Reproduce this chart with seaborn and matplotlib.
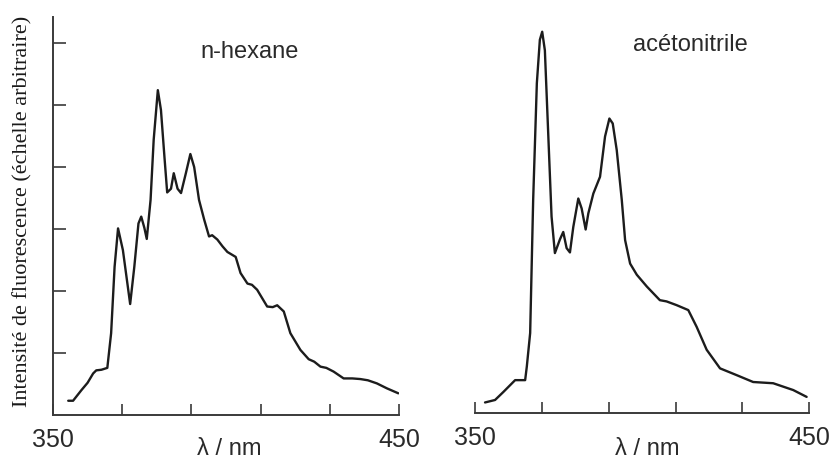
import numpy as np
import pandas as pd
import matplotlib
matplotlib.use("Agg")
import matplotlib.pyplot as plt
import seaborn as sns

# Emission spectra (wavelength in nm, intensity in arbitrary units)
hexane_nm = [354.4, 355.8, 358.2, 360.0, 361.6, 362.5, 364.0, 365.7, 366.8, 367.8,
             368.8, 370.2, 372.3, 373.5, 374.7, 375.5, 376.4, 377.1, 378.2, 379.1,
             380.3, 381.2, 382.2, 383.0, 384.1, 384.9, 386.0, 387.0, 388.4, 389.7,
             390.8, 392.2, 393.7, 395.1, 396.0, 397.5, 399.0, 400.4, 402.8, 404.2,
             406.2, 407.5, 409.0, 411.9, 413.5, 414.8, 416.7, 418.6, 421.5, 423.9,
             425.5, 427.3, 429.0, 431.1, 434.0, 436.5, 438.8, 441.0, 443.6, 446.5,
             449.8]
hexane_int = [0.23, 0.23, 0.40, 0.52, 0.67, 0.72, 0.73, 0.76, 1.32, 2.39,
              3.01, 2.66, 1.79, 2.39, 3.09, 3.20, 3.02, 2.84, 3.47, 4.44,
              5.24, 4.92, 4.17, 3.59, 3.65, 3.90, 3.65, 3.58, 3.90, 4.21,
              4.00, 3.47, 3.15, 2.88, 2.90, 2.83, 2.72, 2.63, 2.55, 2.29,
              2.12, 2.10, 2.02, 1.75, 1.74, 1.77, 1.67, 1.32, 1.05, 0.90,
              0.86, 0.78, 0.76, 0.70, 0.59, 0.59, 0.58, 0.56, 0.51, 0.43,
              0.35]

acn_nm = [353.0, 356.0, 358.5, 362.0, 363.5, 365.0, 365.5, 366.5, 367.4, 368.5,
          369.4, 370.1, 370.9, 371.9, 372.9, 373.9, 375.4, 376.4, 377.4, 378.4,
          379.4, 380.9, 381.9, 383.1, 383.9, 385.4, 387.4, 388.9, 390.2, 391.2,
          392.4, 393.9, 394.9, 396.4, 398.4, 401.4, 405.3, 407.3, 410.3, 413.8,
          416.3, 419.3, 423.3, 428.3, 433.2, 439.2, 445.2, 449.2]
acn_int = [0.17, 0.21, 0.34, 0.53, 0.53, 0.53, 0.75, 1.29, 3.44, 5.32,
           6.02, 6.15, 5.85, 4.51, 3.17, 2.58, 2.80, 2.92, 2.66, 2.59,
           3.00, 3.46, 3.30, 2.96, 3.22, 3.54, 3.81, 4.46, 4.75, 4.67,
           4.24, 3.44, 2.79, 2.41, 2.23, 2.04, 1.82, 1.80, 1.74, 1.66,
           1.39, 1.02, 0.72, 0.61, 0.50, 0.48, 0.37, 0.26]

panel_titles = ["n-hexane", "acétonitrile"]
x_ticks = [350, 370, 390, 410, 430, 450]
x_ticklabels = ["350", "", "", "", "", "450"]
y_ticks = [1, 2, 3, 4, 5, 6]
y_label = "Intensité de fluorescence (échelle arbitraire)"
x_label = "λ / nm"

sns.set_style("white")
plt.rcParams["font.family"] = ["Liberation Sans", "DejaVu Sans"]

W, H = 830, 461
fig = plt.figure(figsize=(W / 100, H / 100), dpi=100)
fig.patch.set_facecolor("white")


def px(x0, y_top, w, h):
    return [x0 / W, 1 - (y_top + h) / H, w / W, h / H]


ax1 = fig.add_axes(px(53, 17, 346, 398))
ax2 = fig.add_axes(px(475, 15, 334.3, 398))

ink = "#1c1c1c"
axis_ink = "#3a3a3a"

for ax, nm, val in [(ax1, hexane_nm, hexane_int), (ax2, acn_nm, acn_int)]:
    df = pd.DataFrame({"nm": nm, "I": val})
    sns.lineplot(data=df, x="nm", y="I", ax=ax, color=ink, linewidth=1.7,
                 sort=False, estimator=None)
    ax.set_xlim(350, 450)
    ax.set_ylim(0, 6.42)
    ax.set_xticks(x_ticks)
    ax.set_xticklabels(x_ticklabels)
    ax.set_xlabel("")
    ax.set_ylabel("")
    ax.tick_params(axis="x", bottom=True, direction="in", length=8, width=1.2,
                   color=axis_ink, pad=9, labelsize=18, labelcolor="#2a2a2a")
    for s in ["top", "right"]:
        ax.spines[s].set_visible(False)
    ax.spines["bottom"].set_color(axis_ink)
    ax.spines["bottom"].set_linewidth(1.4)
    ax.set_facecolor("none")

ax1.set_yticks(y_ticks)
ax1.set_yticklabels([])
ax1.tick_params(axis="y", left=True, direction="in", length=9, width=1.2,
                color=axis_ink)
ax1.spines["left"].set_color(axis_ink)
ax1.spines["left"].set_linewidth(1.4)

ax2.spines["left"].set_visible(False)
ax2.set_yticks([])

# panel titles
fig.text(250 / W, 1 - 52 / H, panel_titles[0], ha="center", va="center",
         fontsize=17, color="#2a2a2a")
fig.text(690 / W, 1 - 45 / H, panel_titles[1], ha="center", va="center",
         fontsize=17, color="#2a2a2a")

# axis labels
fig.text(229 / W, 1 - 460 / H, x_label, ha="center", va="bottom",
         fontsize=17, color="#2a2a2a")
fig.text(647 / W, 1 - 460 / H, x_label, ha="center", va="bottom",
         fontsize=17, color="#2a2a2a")
fig.text(23 / W, 1 - 211 / H, y_label, ha="center", va="center", rotation=90,
         fontsize=16, color="#1a1a1a", family=["Liberation Serif", "DejaVu Serif"])

fig.savefig("out.png", dpi=100, facecolor="white")
